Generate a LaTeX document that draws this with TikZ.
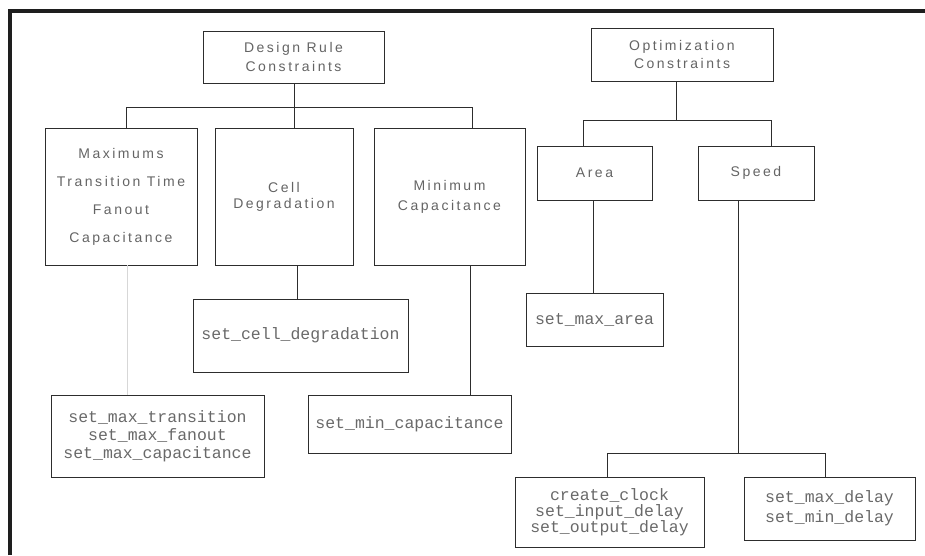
\documentclass[tikz,border=0pt]{standalone}
\usepackage{fontspec}
\setmainfont{Liberation Sans}
\newfontfamily\lblfont[LetterSpace=18]{Liberation Sans}
\newfontfamily\cmdfont{Liberation Mono}
\definecolor{inkline}{RGB}{45,45,45}
\definecolor{inktext}{RGB}{100,100,100}
\definecolor{cmdtext}{RGB}{105,105,105}
\definecolor{faintline}{RGB}{215,215,215}
\definecolor{frameink}{RGB}{30,30,30}
\begin{document}
\begin{tikzpicture}[x=1pt,y=-1pt,
  box/.style={draw=inkline,line width=0.9pt,rectangle,inner sep=0pt,align=center},
  lbl/.style={box,text=inktext,font=\lblfont\fontsize{14}{#1}\selectfont},
  cmd/.style={box,text=cmdtext,font=\cmdfont\fontsize{16.5}{#1}\selectfont},
  wire/.style={draw=inkline,line width=0.9pt},
  faintwire/.style={draw=faintline,line width=1pt}]
\useasboundingbox (0,0) rectangle (925,555);

% outer frame (top and left edges)
\draw[frameink,line width=4pt] (10,555) -- (10,11) -- (925,11);

% ---- design rule constraints branch ----
\node[lbl=19,minimum width=181,minimum height=52] (drc) at (293.5,57) {Design Rule\\Constraints};
\node[lbl=28,minimum width=152,minimum height=137] (maxi) at (121,196.5) {Maximums\\Transition Time\\Fanout\\Capacitance};
\node[lbl=16,minimum width=138,minimum height=137] (celldeg) at (284,196.5) {Cell\\Degradation};
\node[lbl=20,minimum width=151,minimum height=137] (mincap) at (449.5,196.5) {Minimum\\Capacitance};

\coordinate (dj) at (294,107);
\coordinate (djl) at (126,107);
\coordinate (djr) at (472,107);
\draw[wire] (drc.south -| dj) -- (dj);
\draw[wire] (djl) -- (djr);
\draw[wire] (djl) -- (djl |- maxi.north);
\draw[wire] (dj) -- (dj |- celldeg.north);
\draw[wire] (djr) -- (djr |- mincap.north);

\node[cmd=18,minimum width=213,minimum height=82] (setmax) at (157.5,436) {set\_max\_transition\\set\_max\_fanout\\set\_max\_capacitance};
\node[cmd=18,minimum width=215,minimum height=73] (setcell) at (300.5,335.5) {set\_cell\_degradation};
\node[cmd=18,minimum width=203,minimum height=58] (setmin) at (409.5,424) {set\_min\_capacitance};

\coordinate (mx) at (127,0);
\coordinate (cx) at (297,0);
\coordinate (nx) at (470,0);
\draw[faintwire] (maxi.south -| mx) -- (setmax.north -| mx);
\draw[wire] (celldeg.south -| cx) -- (setcell.north -| cx);
\draw[wire] (mincap.south -| nx) -- (setmin.north -| nx);

% ---- optimization constraints branch ----
\node[lbl=18,minimum width=182,minimum height=53] (opt) at (682,54.5) {Optimization\\Constraints};
\node[lbl=18,minimum width=115,minimum height=54] (area) at (594.5,173) {Area};
\node[lbl=18,minimum width=116,minimum height=54] (speed) at (756,173) {Speed};

\coordinate (oj) at (676,120);
\coordinate (ojl) at (583,120);
\coordinate (ojr) at (771,120);
\draw[wire] (opt.south -| oj) -- (oj);
\draw[wire] (ojl) -- (ojr);
\draw[wire] (ojl) -- (ojl |- area.north);
\draw[wire] (ojr) -- (ojr |- speed.north);

\node[cmd=18,minimum width=137,minimum height=53] (setarea) at (594.5,319.5) {set\_max\_area};
\coordinate (ax) at (593,0);
\draw[wire] (area.south -| ax) -- (setarea.north -| ax);

\node[cmd=16,minimum width=189,minimum height=70] (clk) at (609.5,512) {create\_clock\\set\_input\_delay\\set\_output\_delay};
\node[cmd=20,minimum width=171,minimum height=63] (dly) at (829.5,508.5) {set\_max\_delay\\set\_min\_delay};

\coordinate (sj) at (738,453);
\coordinate (sjl) at (607,453);
\coordinate (sjr) at (825,453);
\draw[wire] (speed.south -| sj) -- (sj);
\draw[wire] (sjl) -- (sjr);
\draw[wire] (sjl) -- (sjl |- clk.north);
\draw[wire] (sjr) -- (sjr |- dly.north);
\end{tikzpicture}
\end{document}
